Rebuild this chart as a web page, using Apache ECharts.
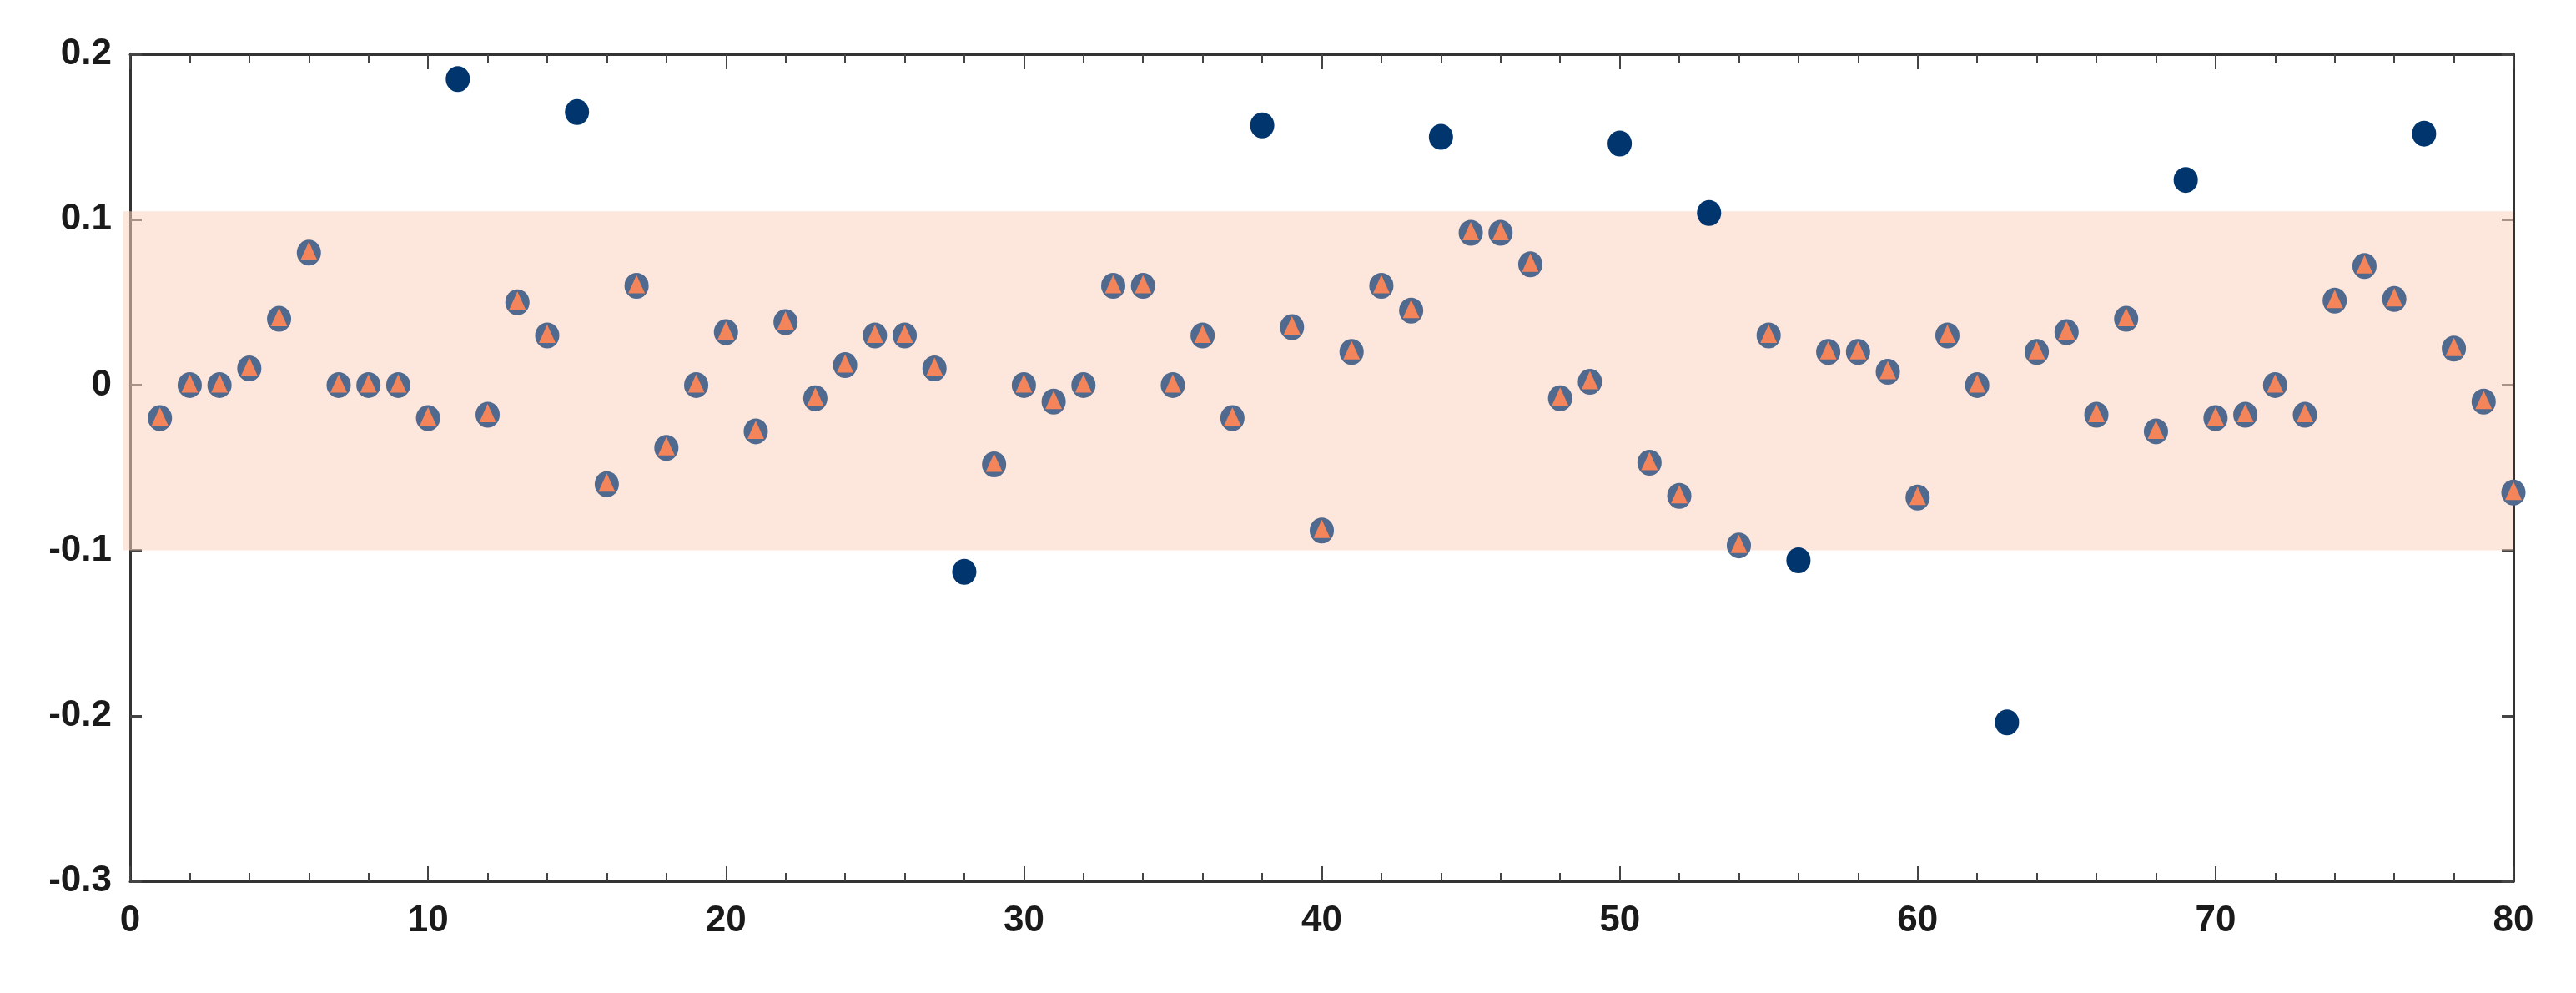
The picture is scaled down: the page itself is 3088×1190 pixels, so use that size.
<!DOCTYPE html>
<html><head><meta charset="utf-8">
<script src="https://cdn.jsdelivr.net/npm/echarts@6/dist/echarts.min.js"></script>
<style>html,body{margin:0;background:#fff}#c{width:3088px;height:1190px}</style>
</head><body><div id="c"></div>
<script>
var xs = [];
for (var i = 1; i <= 80; i++) xs.push(i);
var ys = [-0.02,0,0,0.01,0.04,0.08,0,0,0,-0.02,
  0.185,-0.018,0.05,0.03,0.165,-0.06,0.06,-0.038,0,0.032,
  -0.028,0.038,-0.008,0.012,0.03,0.03,0.01,-0.113,-0.048,0,
  -0.01,0,0.06,0.06,0,0.03,-0.02,0.157,0.035,-0.088,
  0.02,0.06,0.045,0.15,0.092,0.092,0.073,-0.008,0.002,0.146,
  -0.047,-0.067,0.104,-0.097,0.03,-0.106,0.02,0.02,0.008,-0.068,
  0.03,0,-0.204,0.02,0.032,-0.018,0.04,-0.028,0.124,-0.02,
  -0.018,0,-0.018,0.051,0.072,0.052,0.152,0.022,-0.01,-0.065];
var bandLow = -0.1, bandHigh = 0.105;

var inside = [], outside = [];
xs.forEach(function (x, k) {
  var y = ys[k];
  if (y >= bandLow && y <= bandHigh - 0.002) inside.push([x, y]);
  else outside.push([x, y]);
});

var lbl = {color:'#1a1a1a', fontSize:44, fontWeight:'bold', fontFamily:'Liberation Sans Narrow, Liberation Sans, Arial', margin:26};
var line = {show:true, onZero:false, lineStyle:{color:'#333', width:3}};
var xTick = {inside:true, length:18, lineStyle:{color:'#444', width:2}};
var xMinor = {show:true, splitNumber:5, length:10, lineStyle:{color:'#444', width:2}};
var yTick = {inside:true, length:14, lineStyle:{color:'#444', width:3}};
var chart = echarts.init(document.getElementById('c'));
chart.setOption({
  animation:false,
  grid:{left:156, right:75, top:65, bottom:134},
  xAxis:[{type:'value', min:0, max:80, interval:10, axisLine:line, axisTick:xTick, minorTick:xMinor,
    splitLine:{show:false}, axisLabel:lbl},
   {type:'value', position:'top', min:0, max:80, interval:10, axisLine:line, axisTick:xTick, minorTick:xMinor,
    splitLine:{show:false}, axisLabel:{show:false}}],
  yAxis:[{type:'value', min:-0.3, max:0.2, interval:0.1, axisLine:line, axisTick:yTick,
    splitLine:{show:false},
    axisLabel:Object.assign({}, lbl, {margin:22, formatter:function(v){return String(Math.round(v*10)/10);}})},
   {type:'value', position:'right', min:-0.3, max:0.2, interval:0.1, axisLine:line, axisTick:yTick,
    splitLine:{show:false}, axisLabel:{show:false}}],
  series:[
    {type:'scatter', data:[], markArea:{silent:true, itemStyle:{color:'rgba(252,210,190,0.55)'},
      data:[[{yAxis:bandLow, x:148}, {yAxis:bandHigh, x:3013}]]}},
    {type:'scatter', data:outside, symbol:'circle', symbolSize:[29,31], itemStyle:{color:'#00356e', opacity:1}},
    {type:'scatter', data:inside, symbol:'circle', symbolSize:[29,31], itemStyle:{color:'#50698f', opacity:1}},
    {type:'scatter', data:inside, symbol:'triangle', symbolSize:[20,22], symbolOffset:[0,-2], itemStyle:{color:'#f4845a', opacity:1}}
  ]
});
</script></body></html>
